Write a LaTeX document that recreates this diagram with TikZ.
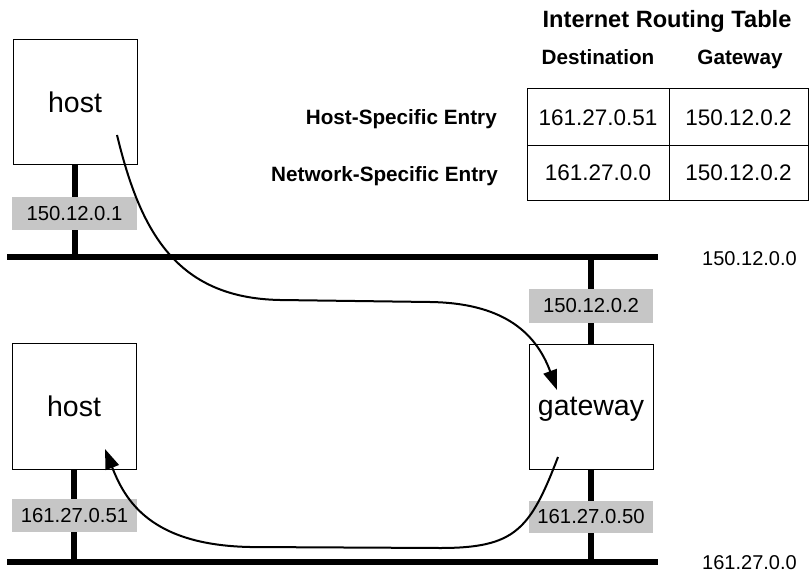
\documentclass[tikz,border=0pt]{standalone}
\usepackage{fontspec}
\setmainfont{Liberation Sans}
\usetikzlibrary{arrows.meta}
\begin{document}
\begin{tikzpicture}[x=1pt,y=-1pt,
  box/.style={draw,line width=1pt,minimum width=124pt,minimum height=125pt,inner sep=0pt,text depth=0pt,font=\fontsize{28.5}{30}\selectfont},
  addr/.style={fill=gray!45,minimum width=125pt,minimum height=33pt,inner sep=0pt,font=\fontsize{20.3}{22}\selectfont},
  bus/.style={line width=6pt},
  stem/.style={line width=5.5pt},
  route/.style={line width=2pt,-{Triangle[length=20pt,width=14pt]}},
  cell/.style={draw,line width=1pt,inner sep=0pt,font=\fontsize{22.5}{24}\selectfont},
  head/.style={font=\bfseries\fontsize{20.7}{22}\selectfont,inner sep=0pt},
  net/.style={font=\fontsize{20}{22}\selectfont,inner sep=0pt,anchor=west}]
\useasboundingbox (0,0) rectangle (810,572);
% boxes
\node[box] (host1) at (75,102.5) {host};
\node[box,minimum height=126pt] (host2) at (74,406) {host};
\node[box] (gw) at (591,406.5) {gateway};
% buses
\coordinate (b1w) at (7,257); \coordinate (b1e) at (658,257);
\coordinate (b2w) at (7,562); \coordinate (b2e) at (658,562);
\draw[bus] (b1w) -- (b1e);
\draw[bus] (b2w) -- (b2e);
\draw[stem] (host1.south) -- (host1.south |- b1w);
\draw[stem] (host2.south) -- (host2.south |- b2w);
\draw[stem] (gw.north) -- (gw.north |- b1w);
\draw[stem] (gw.south) -- (gw.south |- b2w);
% address labels
\node[addr] (a1) at (74.5,213.5) {150.12.0.1};
\node[addr] (a2) at (74.5,515.5) {161.27.0.51};
\node[addr,minimum width=124pt,minimum height=34pt] (a3) at (591,306) {150.12.0.2};
\node[addr,minimum width=124pt,minimum height=32pt] (a4) at (591,517) {161.27.0.50};
% network labels
\node[net] (n1) at (702,259) {150.12.0.0};
\node[net] (n2) at (702,562.5) {161.27.0.0};
% table
\node[head,font=\bfseries\fontsize{23.6}{26}\selectfont,anchor=base] (title) at (667,28) {Internet Routing Table};
\node[head,anchor=base] (hd) at (598,65) {Destination};
\node[head,anchor=base] (hg) at (740,65) {Gateway};
\node[cell,minimum width=142pt,minimum height=57pt] (c11) at (598,117.5) {161.27.0.51};
\node[cell,minimum width=139pt,minimum height=57pt] (c12) at (738.5,117.5) {150.12.0.2};
\node[cell,minimum width=142pt,minimum height=54pt] (c21) at (598,173) {161.27.0.0};
\node[cell,minimum width=139pt,minimum height=54pt] (c22) at (738.5,173) {150.12.0.2};
\node[head,anchor=base east] (r1) at (497,125) {Host-Specific Entry};
\node[head,anchor=base east] (r2) at (498,181) {Network-Specific Entry};
% routes
\draw[route] ([shift={(42,32.5)}]host1.center) .. controls (140,230) and (175,298) .. (280,300) -- (430,302) .. controls (500,303) and (535,330) .. ([shift={(-34,-16.5)}]gw.center);
\draw[route] ([shift={(-33,50.5)}]gw.center) .. controls (530,530) and (515,548) .. (440,548) -- (250,547) .. controls (150,545) and (125,500) .. ([shift={(31,43)}]host2.center);
\end{tikzpicture}
\end{document}
